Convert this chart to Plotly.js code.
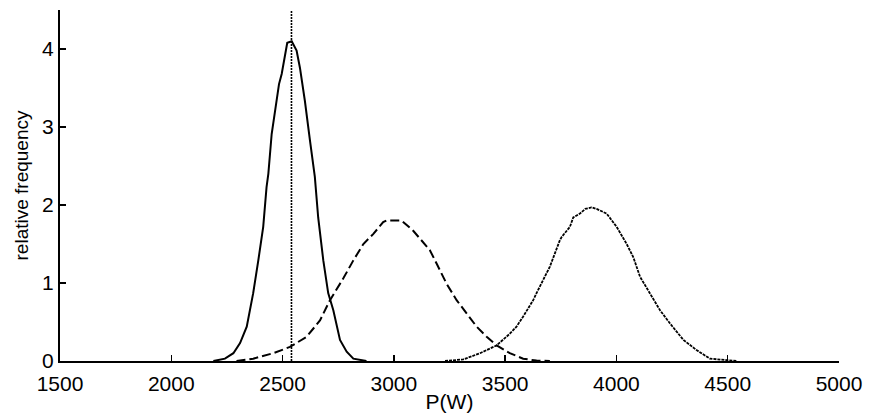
<!DOCTYPE html>
<html>
<head>
<meta charset="utf-8">
<script src="https://cdn.plot.ly/plotly-3.0.1.min.js"></script>
<style>html,body{margin:0;padding:0;background:#fff;}#chart{width:869px;height:415px;}</style>
</head>
<body>
<div id="chart"></div>
<script>
// Solid curve
const solidX = [2189, 2241, 2279, 2309, 2339, 2368, 2391, 2413, 2428, 2436, 2451, 2473, 2484, 2496, 2511, 2521, 2541, 2563, 2578, 2600, 2623, 2645, 2660, 2683, 2705, 2728, 2758, 2788, 2818, 2877];
const solidY = [0, 0.03, 0.1, 0.23, 0.44, 0.87, 1.29, 1.72, 2.23, 2.40, 2.91, 3.34, 3.55, 3.68, 3.94, 4.08, 4.10, 3.98, 3.76, 3.34, 2.83, 2.36, 1.84, 1.29, 0.87, 0.65, 0.27, 0.12, 0.03, 0];
// Dashed curve
const dashX = [2293, 2368, 2458, 2533, 2608, 2668, 2713, 2773, 2818, 2848, 2863, 2908, 2952, 2967, 3035, 3087, 3124, 3162, 3192, 3237, 3282, 3327, 3372, 3417, 3462, 3521, 3581, 3641, 3701];
const dashY = [0, 0.03, 0.1, 0.18, 0.31, 0.52, 0.78, 1.06, 1.29, 1.42, 1.50, 1.63, 1.78, 1.80, 1.80, 1.67, 1.55, 1.42, 1.25, 0.99, 0.78, 0.61, 0.44, 0.31, 0.20, 0.10, 0.03, 0.005, 0];
// Dotted curve
const dotX = [3230, 3312, 3387, 3462, 3521, 3551, 3581, 3626, 3641, 3701, 3746, 3754, 3791, 3806, 3836, 3860, 3888, 3911, 3956, 4001, 4046, 4076, 4106, 4151, 4196, 4241, 4301, 4360, 4420, 4540];
const dotY = [0, 0.02, 0.1, 0.2, 0.35, 0.44, 0.57, 0.78, 0.87, 1.21, 1.55, 1.59, 1.72, 1.84, 1.89, 1.95, 1.97, 1.95, 1.89, 1.72, 1.50, 1.33, 1.08, 0.87, 0.65, 0.48, 0.27, 0.14, 0.03, 0];
// Vertical reference line
const vlineX = [2540, 2540];
const vlineY = [0, 4.5];

const xTicks = [1500, 2000, 2500, 3000, 3500, 4000, 4500, 5000];
const yTicks = [0, 1, 2, 3, 4];

const FONT = '"Liberation Sans", Arial, sans-serif';

const traces = [
  {x: solidX, y: solidY, mode: 'lines', line: {color: '#000', width: 2}, hoverinfo: 'skip'},
  {x: dashX, y: dashY, mode: 'lines', line: {color: '#000', width: 2, dash: '9px,4px'}, hoverinfo: 'skip'},
  {x: dotX, y: dotY, mode: 'lines', line: {color: '#000', width: 1.8, dash: '3px,1px'}, hoverinfo: 'skip'},
  {x: vlineX, y: vlineY, mode: 'lines', line: {color: '#000', width: 1.6, dash: '2px,1px'}, hoverinfo: 'skip'}
];

const layout = {
  width: 869, height: 415,
  margin: {l: 60, r: 30, t: 10, b: 54},
  paper_bgcolor: '#fff', plot_bgcolor: '#fff',
  showlegend: false,
  font: {family: FONT, color: '#000', size: 21},
  xaxis: {
    range: [1500, 5000], tickvals: xTicks, ticktext: xTicks.map(String),
    showgrid: false, zeroline: false, showline: true, linecolor: '#000', linewidth: 2,
    ticks: 'inside', ticklen: 6, tickwidth: 1.5, tickcolor: '#000',
    ticklabelstandoff: 3,
    tickfont: {family: FONT, size: 21, color: '#000'},
    title: {text: 'P(W)', font: {family: FONT, size: 21, color: '#000'}, standoff: 0}
  },
  yaxis: {
    range: [0, 4.5], tickvals: yTicks, ticktext: yTicks.map(String),
    showgrid: false, zeroline: false, showline: true, linecolor: '#000', linewidth: 2,
    ticks: 'inside', ticklen: 6, tickwidth: 1.5, tickcolor: '#000',
    tickfont: {family: FONT, size: 21, color: '#000'},
    title: {text: 'relative frequency', font: {family: FONT, size: 19, color: '#000'}, standoff: 8}
  }
};

Plotly.newPlot('chart', traces, layout, {staticPlot: true, displayModeBar: false});
</script>
</body>
</html>
